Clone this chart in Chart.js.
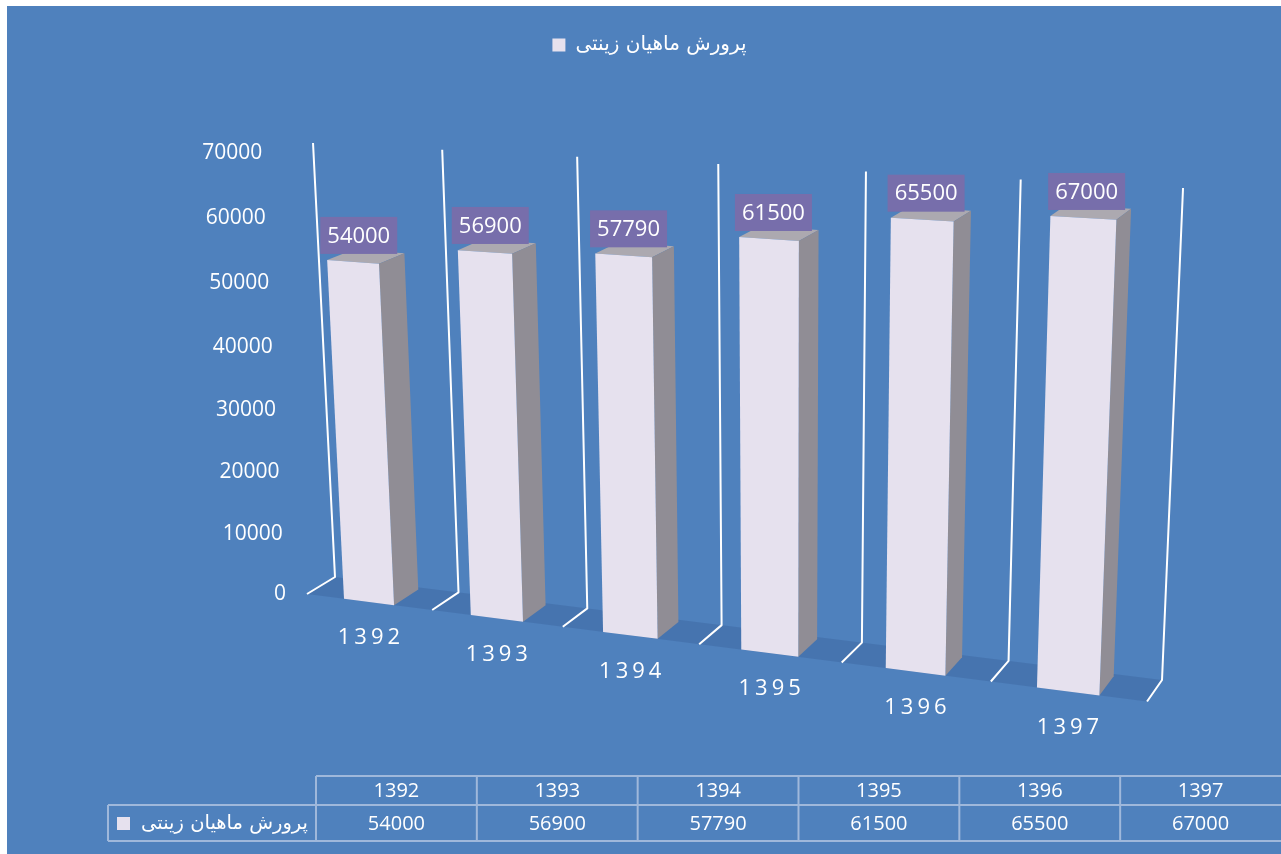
<!DOCTYPE html>
<html>
<head>
<meta charset="utf-8">
<title>پرورش ماهیان زینتی</title>
<script src="https://cdn.jsdelivr.net/npm/chart.js@4.4.1/dist/chart.umd.min.js"></script>
<style>
  html, body { margin: 0; padding: 0; background: #fff; }
  canvas { display: block; }
</style>
</head>
<body>
<canvas id="fishChart" width="1281" height="854"></canvas>
<script>
const categories = ['1392', '1393', '1394', '1395', '1396', '1397'];
const seriesName = 'پرورش ماهیان زینتی';
const values = [54000, 56900, 57790, 61500, 65500, 67000];
const yTicks = [0, 10000, 20000, 30000, 40000, 50000, 60000, 70000];

const colors = {
  panel: '#4f81bd',
  floor: 'rgba(20, 45, 90, 0.14)',
  front: '#e6e1ee',
  side: '#908d95',
  top: '#aca9b0',
  tag: '#776eab',
  grid: '#ffffff',
  table: '#9fb8db',
  text: '#ffffff'
};

const numFont = '"Open Sans", "Liberation Sans", sans-serif';
const faFont = '"DejaVu Sans", sans-serif';

// perspective camera: vanishing point of each axis and how fast it recedes
const view = {
  origin: [335, 577],
  vx: [-5609, -163], kx: -0.12214,
  vy: [786, 9482],   ky: -0.04647,
  vz: [1890, -367],  kz: -0.01769
};
const barDepth = [0.1, 1];

// data table under the plot
const table = { left: 108, keyRight: 316, right: 1281, top: 776, mid: 805, bottom: 841 };

// X, Y, Z are 0..1 inside the plot box (Z = 0 back wall, 1 front)
function project(X, Y, Z) {
  const w = 1 + view.kx * X + view.ky * Y + view.kz * Z;
  return {
    x: (view.kx * X * view.vx[0] + view.ky * Y * view.vy[0] + view.kz * Z * view.vz[0] + view.origin[0]) / w,
    y: (view.kx * X * view.vx[1] + view.ky * Y * view.vy[1] + view.kz * Z * view.vz[1] + view.origin[1]) / w
  };
}

function poly(ctx, pts, fill) {
  ctx.beginPath();
  pts.forEach((p, i) => i ? ctx.lineTo(p.x, p.y) : ctx.moveTo(p.x, p.y));
  ctx.closePath();
  ctx.fillStyle = fill;
  ctx.fill();
}

const bars3d = {
  id: 'bars3d',
  beforeDraw(chart) {
    const ctx = chart.ctx;
    ctx.save();
    ctx.fillStyle = '#ffffff';
    ctx.fillRect(0, 0, chart.width, chart.height);
    ctx.fillStyle = colors.panel;
    ctx.fillRect(7, 6, chart.width - 7, chart.height - 6);
    ctx.restore();
  },
  beforeDatasetsDraw(chart) {
    const ctx = chart.ctx, area = chart.chartArea;
    const xs = chart.scales.x, ys = chart.scales.y;
    const nx = px => (px - area.left) / area.width;
    const ny = py => (area.bottom - py) / area.height;
    ctx.save();

    // floor
    poly(ctx, [project(0, 0, 0), project(1, 0, 0), project(1, 0, 1), project(0, 0, 1)], colors.floor);

    // category walls: up the back, then forward along the floor
    ctx.strokeStyle = colors.grid;
    ctx.lineWidth = 2;
    ctx.lineJoin = 'round';
    for (let i = 0; i <= categories.length; i++) {
      const X = i / categories.length;
      const a = project(X, 1, 0), b = project(X, 0, 0), c = project(X, 0, 1);
      ctx.beginPath();
      ctx.moveTo(a.x, a.y);
      ctx.lineTo(b.x, b.y);
      ctx.lineTo(c.x, c.y);
      ctx.stroke();
    }

    // value axis
    ctx.fillStyle = colors.text;
    ctx.font = '21px ' + numFont;
    ctx.textAlign = 'right';
    ctx.textBaseline = 'middle';
    yTicks.forEach(t => {
      const p = project(0, ny(ys.getPixelForValue(t)), 1);
      ctx.fillText(String(t), p.x - 21, p.y);
    });

    // category axis
    ctx.textAlign = 'center';
    ctx.font = '22px ' + numFont;
    ctx.letterSpacing = '4px';
    categories.forEach((c, i) => {
      const p = project(nx(xs.getPixelForValue(i)), 0, 1);
      ctx.fillText(c, p.x + 2, p.y + 36);
    });
    ctx.letterSpacing = '0px';

    // bars and value tags
    const meta = chart.getDatasetMeta(0);
    const [z0, z1] = barDepth;
    meta.data.forEach((bar, i) => {
      const x0 = nx(bar.x - bar.width / 2), x1 = nx(bar.x + bar.width / 2);
      const y0 = ny(bar.base), y1 = ny(bar.y);
      poly(ctx, [project(x0, y1, z1), project(x1, y1, z1), project(x1, y1, z0), project(x0, y1, z0)], colors.top);
      poly(ctx, [project(x1, y0, z1), project(x1, y1, z1), project(x1, y1, z0), project(x1, y0, z0)], colors.side);
      poly(ctx, [project(x0, y0, z1), project(x1, y0, z1), project(x1, y1, z1), project(x0, y1, z1)], colors.front);

      const xc = nx(bar.x);
      const anchor = project(xc, y1, 0.8), front = project(xc, y1, 1);
      const w = 77, h = 37, bottom = front.y - 8;
      ctx.fillStyle = colors.tag;
      ctx.fillRect(anchor.x - w / 2, bottom - h, w, h);
      ctx.fillStyle = colors.text;
      ctx.font = '22px ' + numFont;
      ctx.textAlign = 'center';
      ctx.fillText(String(chart.data.datasets[0].data[i]), anchor.x, bottom - h / 2 + 1);
    });

    ctx.restore();
    return false;
  },
  afterDraw(chart) {
    const ctx = chart.ctx, t = table;
    const colW = (t.right - t.keyRight) / categories.length;
    ctx.save();
    ctx.strokeStyle = colors.table;
    ctx.lineWidth = 2;
    ctx.beginPath();
    ctx.moveTo(t.keyRight, t.top); ctx.lineTo(t.right, t.top);
    ctx.moveTo(t.left, t.mid); ctx.lineTo(t.right, t.mid);
    ctx.moveTo(t.left, t.bottom); ctx.lineTo(t.right, t.bottom);
    ctx.moveTo(t.left, t.mid); ctx.lineTo(t.left, t.bottom);
    for (let i = 0; i < categories.length; i++) {
      const x = t.keyRight + i * colW;
      ctx.moveTo(x, t.top); ctx.lineTo(x, t.bottom);
    }
    ctx.stroke();

    ctx.fillStyle = colors.text;
    ctx.font = '20px ' + numFont;
    ctx.textAlign = 'center';
    ctx.textBaseline = 'middle';
    const rowA = (t.top + t.mid) / 2 + 1, rowB = (t.mid + t.bottom) / 2 + 1;
    categories.forEach((c, i) => {
      const cx = t.keyRight + (i + 0.5) * colW;
      ctx.fillText(c, cx, rowA);
      ctx.fillText(String(values[i]), cx, rowB);
    });

    // legend key cell
    ctx.fillStyle = colors.front;
    ctx.fillRect(t.left + 9, rowB - 7, 13, 13);
    ctx.fillStyle = colors.text;
    ctx.font = '19.5px ' + faFont;
    ctx.textAlign = 'right';
    ctx.fillText(seriesName, t.keyRight - 8, rowB);
    ctx.restore();
  }
};

new Chart(document.getElementById('fishChart').getContext('2d'), {
  type: 'bar',
  data: {
    labels: categories,
    datasets: [{
      label: seriesName,
      data: values,
      backgroundColor: colors.front,
      borderWidth: 0,
      barPercentage: 0.4,
      categoryPercentage: 1
    }]
  },
  options: {
    responsive: false,
    animation: false,
    devicePixelRatio: 1,
    layout: { padding: { top: 25, left: 38, right: 20, bottom: 20 } },
    plugins: {
      legend: {
        display: true,
        position: 'top',
        labels: {
          color: colors.text,
          boxWidth: 13,
          boxHeight: 13,
          padding: 10,
          font: { size: 20, family: faFont }
        }
      },
      tooltip: { enabled: false }
    },
    scales: {
      x: { display: false },
      y: { display: false, min: 0, max: 70000, ticks: { stepSize: 10000 } }
    }
  },
  plugins: [bars3d]
});
</script>
</body>
</html>
